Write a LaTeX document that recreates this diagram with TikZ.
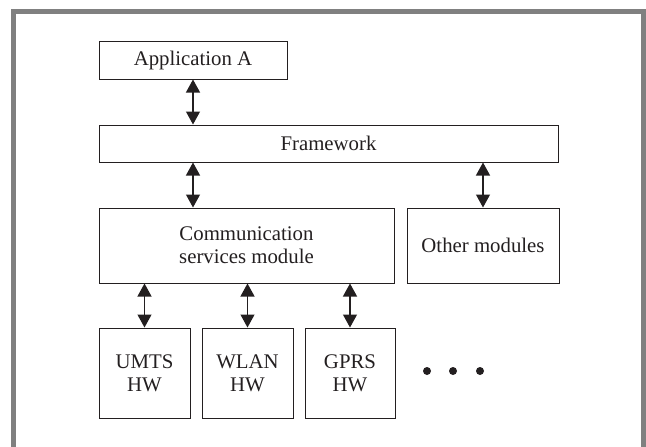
\documentclass[tikz,border=0pt]{standalone}
\usepackage{fontspec}
\setmainfont{Liberation Serif}
\usetikzlibrary{arrows.meta}
\definecolor{ink}{HTML}{231F20}
\definecolor{framegray}{HTML}{808080}
\begin{document}
\begin{tikzpicture}[x=1pt,y=-1pt,
  box/.style={draw=ink,line width=1pt,inner sep=0pt,align=center,text=ink,
    font=\fontsize{20.8}{23}\selectfont},
  link/.style={draw=ink,line width=1.2pt,
    {Triangle[width=14pt,length=13pt]}-{Triangle[width=14pt,length=13pt]}}]
  \useasboundingbox (0,0) rectangle (646,447);
  % outer frame, open at the bottom edge of the page
  \draw[framegray,line width=5pt] (13.5,470) -- (13.5,11.5) -- (643.5,11.5) -- (643.5,470);

  \node[box,minimum width=188pt,minimum height=38pt] (app) at (193,60) {Application A};
  \node[box,minimum width=459pt,minimum height=37pt] (fw) at (328.5,143.5) {Framework};
  \node[box,minimum width=295pt,minimum height=75pt] (comm) at (246.5,245.5) {Communication\\services module};
  \node[box,minimum width=152pt,minimum height=75pt] (other) at (483,245.5) {Other modules};
  \node[box,minimum width=91pt,minimum height=90pt] (umts) at (144.5,373) {UMTS\\HW};
  \node[box,minimum width=91pt,minimum height=90pt] (wlan) at (247.5,373) {WLAN\\HW};
  \node[box,minimum width=90pt,minimum height=90pt] (gprs) at (350,373) {GPRS\\HW};

  \draw[link] (app.south) -- (fw.north -| app.south);
  \draw[link] (fw.south -| app.south) -- (comm.north -| app.south);
  \draw[link] (fw.south -| other.north) -- (other.north);
  \draw[link] (comm.south -| umts.north) -- (umts.north);
  \draw[link] (comm.south -| wlan.north) -- (wlan.north);
  \draw[link] (comm.south -| gprs.north) -- (gprs.north);

  % ellipsis for further hardware
  \foreach \x in {427,453,480} \fill[ink] (\x,371) circle (4pt);
\end{tikzpicture}
\end{document}
